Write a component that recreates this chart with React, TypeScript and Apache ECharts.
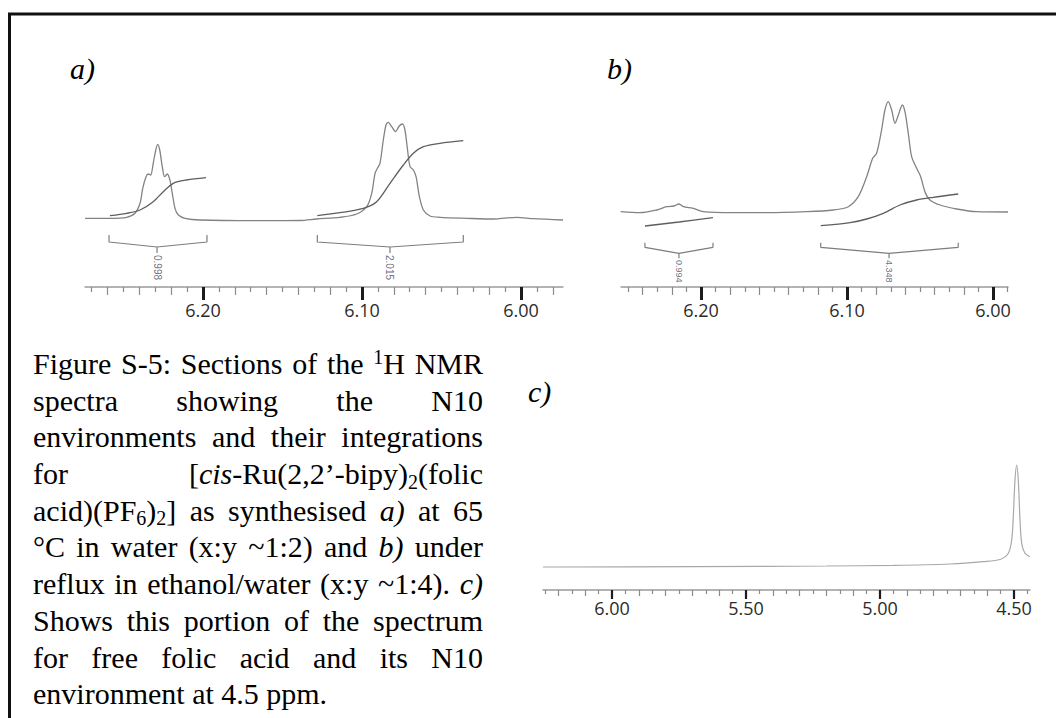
import React, { useEffect, useRef } from "react";
import * as echarts from "echarts";

// ---- Panel a) : 65 °C in water -------------------------------------------
// [chemical shift (ppm), intensity (a.u.)]
const spectrumA: [number, number][] = [
  [6.2742, 0.7], [6.2585, 0.7], [6.248, 1.7], [6.2428, 5.7], [6.2396, 15.7],
  [6.2379, 30.7], [6.2358, 42.3], [6.2344, 45], [6.2329, 44], [6.2313, 55.7],
  [6.2297, 69], [6.2285, 74.7], [6.2272, 69], [6.2256, 52.3], [6.2241, 42.3],
  [6.2225, 45], [6.2208, 39], [6.2193, 25.7], [6.2176, 10.7], [6.2155, 4],
  [6.2113, 0.7], [6.2019, -1], [6.1642, -1.7], [6.139, -1.5], [6.1285, 0],
  [6.1138, 1.7], [6.1033, 5], [6.097, 12.3], [6.0939, 25.7], [6.0918, 45.7],
  [6.0903, 50.7], [6.0887, 55.7], [6.0866, 79], [6.0849, 94], [6.0835, 96.7],
  [6.0813, 92.3], [6.0788, 87.3], [6.0766, 93], [6.0745, 95], [6.073, 89],
  [6.0716, 72.3], [6.0698, 52.3], [6.0677, 49], [6.066, 42.3], [6.0639, 22.3],
  [6.0614, 9], [6.0572, 3], [6.0509, 1.7], [6.0342, 0.7], [6.0174, 0],
  [6.0028, 1.7], [5.9923, 0.3], [5.9736, -1],
];
const integralCurveA1: [number, number][] = [
  [6.2585, 3.3], [6.248, 5.7], [6.2396, 9], [6.2313, 17.3], [6.225, 27.3],
  [6.2187, 35.7], [6.2103, 39], [6.1981, 41.3],
];
const integralCurveA2: [number, number][] = [
  [6.1281, 3.3], [6.1138, 6.3], [6.0992, 10.7], [6.0908, 17.3], [6.0824, 35.7],
  [6.074, 54], [6.0677, 65.7], [6.0614, 72.3], [6.0509, 75.7], [6.0363, 78.3],
];
// integration regions: [from ppm, to ppm, label ppm]
const integralRangesA: [number, number, number][] = [
  [6.2591, 6.1975, 6.2289],
  [6.1281, 6.0363, 6.0824],
];
const integralValuesA = [0.998, 2.015];

// ---- Panel b) : reflux in ethanol/water -----------------------------------
const spectrumB: [number, number][] = [
  [6.255, 0.3], [6.2418, -0.7], [6.2303, 2], [6.2235, 5.3], [6.2185, 6],
  [6.2151, 8], [6.2121, 5.3], [6.2053, 3.7], [6.1984, 0.3], [6.1779, -0.7],
  [6.155, -0.7], [6.1276, 0.3], [6.1094, 2], [6.0991, 5.3], [6.0923, 15.3],
  [6.0865, 35.3], [6.0824, 53.7], [6.0797, 58.7], [6.0763, 82], [6.074, 102],
  [6.0717, 110.3], [6.0694, 102], [6.0671, 88.7], [6.0648, 97], [6.0621, 107],
  [6.0603, 100.3], [6.058, 78.7], [6.0557, 55.3], [6.0523, 43.7], [6.0495, 35.3],
  [6.0466, 20.3], [6.0432, 12], [6.0363, 7], [6.0249, 3], [6.0112, 0.3],
  [5.9897, 0],
];
const integralCurveB1: [number, number][] = [
  [6.2384, -14], [6.2151, -10], [6.1918, -5.7],
];
const integralCurveB2: [number, number][] = [
  [6.118, -13.7], [6.0979, -10.7], [6.0865, -7], [6.0751, -1.3], [6.0637, 7],
  [6.0523, 12], [6.0409, 14.7], [6.0238, 18],
];
const integralRangesB: [number, number, number][] = [
  [6.2384, 6.1918, 6.2151],
  [6.118, 6.0238, 6.0712],
];
const integralValuesB = [0.994, 4.348];

// ---- Panel c) : free folic acid -------------------------------------------
const spectrumC: [number, number][] = [
  [6.2575, 0], [6.194, 0], [5.6966, 0.3], [5.1989, 1], [4.9504, 1.6],
  [4.7388, 3], [4.6146, 5.3], [4.5522, 7.5], [4.5213, 13.7], [4.5086, 27],
  [4.5026, 50.3], [4.4963, 87], [4.4899, 102], [4.484, 87], [4.4776, 47],
  [4.4713, 23.7], [4.459, 13.7], [4.4403, 10.3],
];

// ---- axis ticks ------------------------------------------------------------
const majorTicksAB = [6.2, 6.1, 6.0];
const midTicksAB = [6.26, 6.24, 6.22, 6.18, 6.16, 6.14, 6.12, 6.08, 6.06, 6.04, 6.02, 5.98];
const minorTicksAB = [6.27, 6.25, 6.23, 6.21, 6.19, 6.17, 6.15, 6.13, 6.11, 6.09, 6.07, 6.05, 6.03, 6.01, 5.99];
const majorTicksC = [6.0, 5.5, 5.0, 4.5];
const midTicksC = [6.2, 6.1, 5.9, 5.8, 5.7, 5.6, 5.4, 5.3, 5.2, 5.1, 4.9, 4.8, 4.7, 4.6];
const minorTicksC = [6.25, 6.15, 6.05, 5.95, 5.85, 5.75, 5.65, 5.55, 5.45, 5.35, 5.25, 5.15, 5.05, 4.95, 4.85, 4.75, 4.65, 4.55, 4.45];

// ---- caption ---------------------------------------------------------------
const captionLines = [
  "Figure S-5: Sections of the {sup|1}H NMR",
  "spectra showing the N10",
  "environments and their integrations",
  "for [{i|cis}-Ru(2,2’-bipy){sub|2}(folic",
  "acid)(PF{sub|6}){sub|2}] as synthesised {i|a)} at 65",
  "°C in water (x:y ~1:2) and {i|b)} under",
  "reflux in ethanol/water (x:y ~1:4). {i|c)}",
  "Shows this portion of the spectrum",
  "for free folic acid and its N10",
  "environment at 4.5 ppm.",
];
const panelLabels = ["a)", "b)", "c)"];

const SERIF = '"Liberation Serif", "Times New Roman", serif';
const AXIS_FONT = '"Open Sans", "Noto Sans", sans-serif';
const TEXT_SIZE = 30;
const SCRIPT_SIZE = 20;

type Piece = { kind: "n" | "i" | "sub" | "sup"; text: string };

function parseWord(word: string): Piece[] {
  const out: Piece[] = [];
  const re = /\{(i|sub|sup)\|([^}]*)\}/g;
  let last = 0;
  let m: RegExpExecArray | null;
  while ((m = re.exec(word))) {
    if (m.index > last) out.push({ kind: "n", text: word.slice(last, m.index) });
    out.push({ kind: m[1] as Piece["kind"], text: m[2] });
    last = re.lastIndex;
  }
  if (last < word.length) out.push({ kind: "n", text: word.slice(last) });
  return out;
}

function pieceFont(p: Piece) {
  const size = p.kind === "sub" || p.kind === "sup" ? SCRIPT_SIZE : TEXT_SIZE;
  return { size, italic: p.kind === "i" };
}

function makeMeasurer() {
  const ctx = document.createElement("canvas").getContext("2d")!;
  return (p: Piece) => {
    const f = pieceFont(p);
    ctx.font = `${f.italic ? "italic " : ""}${f.size}px ${SERIF}`;
    return ctx.measureText(p.text).width;
  };
}

function textElement(p: Piece, x: number, baseline: number) {
  const f = pieceFont(p);
  const shift = p.kind === "sup" ? -10 : p.kind === "sub" ? 5 : 0;
  return {
    type: "text",
    x,
    y: baseline + shift - 0.32 * f.size,
    silent: true,
    style: {
      text: p.text,
      fontFamily: SERIF,
      fontSize: f.size,
      fontStyle: f.italic ? "italic" : "normal",
      fill: "#000",
      align: "left",
      verticalAlign: "middle",
    },
  };
}

// justified caption block: each word placed so that every line but the last fills the column
function captionElements() {
  const measure = makeMeasurer();
  const left = 33;
  const right = 483;
  const firstBaseline = 373;
  const leading = 36.7;
  const space = measure({ kind: "n", text: " " });
  const els: any[] = [];
  captionLines.forEach((line, i) => {
    const baseline = firstBaseline + i * leading;
    const words = line.split(" ").map(parseWord);
    const widths = words.map((w) => w.reduce((s, p) => s + measure(p), 0));
    const total = widths.reduce((s, w) => s + w, 0);
    const isLast = i === captionLines.length - 1;
    const gap = isLast || words.length < 2 ? space : (right - left - total) / (words.length - 1);
    let x = left;
    words.forEach((w) => {
      w.forEach((p) => {
        els.push(textElement(p, x, baseline));
        x += measure(p);
      });
      x += gap;
    });
  });
  return els;
}

function labelElements() {
  const spots: [number, number][] = [[70, 78], [607, 78], [528, 401]];
  return panelLabels.map((t, i) =>
    textElement({ kind: "i", text: t }, spots[i][0], spots[i][1])
  );
}

function within(vals: number[], min: number, max: number) {
  return vals.filter((v) => v >= min - 1e-9 && v <= max + 1e-9);
}

type AxisStyle = {
  majorLen: number; majorWidth: number; midLen: number; minorLen: number;
  labelMargin: number; labelSize: number;
};

function panelAxes(gridIndex: number, min: number, max: number, major: number[], mid: number[], minor: number[], s: AxisStyle) {
  const base = {
    type: "value", gridIndex, min, max, inverse: true, position: "bottom",
    splitLine: { show: false }, silent: true,
  };
  return [
    {
      ...base,
      axisLine: { show: false, onZero: false },
      axisTick: { show: true, customValues: within(major, min, max), length: s.majorLen, lineStyle: { color: "#1c1c1c", width: s.majorWidth } },
      axisLabel: {
        show: true, customValues: within(major, min, max),
        formatter: (v: number) => v.toFixed(2),
        margin: s.labelMargin, fontFamily: AXIS_FONT, fontSize: s.labelSize, color: "#2b2b2b",
      },
    },
    {
      ...base,
      axisLine: { show: true, onZero: false, lineStyle: { color: "#9b9b9b", width: 1.5 } },
      axisTick: { show: true, customValues: within(mid, min, max), length: s.midLen, lineStyle: { color: "#8a8a8a", width: 1.2 } },
      axisLabel: { show: false },
    },
    {
      ...base,
      axisLine: { show: false, onZero: false },
      axisTick: { show: true, customValues: within(minor, min, max), length: s.minorLen, lineStyle: { color: "#8a8a8a", width: 1.2 } },
      axisLabel: { show: false },
    },
  ];
}

function trace(xAxisIndex: number, yAxisIndex: number, data: [number, number][], color: string, width: number, smooth: number | boolean = 0.3) {
  return {
    type: "line", xAxisIndex, yAxisIndex, data, symbol: "none", showSymbol: false,
    smooth, silent: true, lineStyle: { color, width },
  };
}

// bracket under an integration region, with a short stem at the label position
function bracket(xAxisIndex: number, yAxisIndex: number, r: [number, number, number], lv: number[]) {
  const [a, b, c] = r;
  const [top, corner, apex, stem] = lv;
  const data: [number, number][] = [
    [a, top], [a, corner], [c, apex], [c, stem], [c, apex], [b, corner], [b, top],
  ];
  return trace(xAxisIndex, yAxisIndex, data, "#7d7d7d", 1.2, false);
}

function integralLabels(xAxisIndex: number, yAxisIndex: number, ranges: [number, number, number][], values: number[], y: number, size: number) {
  return {
    type: "scatter", xAxisIndex, yAxisIndex, symbolSize: 0, silent: true,
    data: ranges.map((r, i) => [r[2], y, values[i]]),
    label: {
      show: true, position: [0, 0], rotate: -90, align: "left", verticalAlign: "middle",
      formatter: (p: any) => p.value[2].toFixed(3),
      fontFamily: '"Liberation Sans", Arial, sans-serif', fontSize: size, color: "#4a4a62",
    },
  };
}

function buildOption() {
  const abStyle: AxisStyle = { majorLen: 13, majorWidth: 3, midLen: 8, minorLen: 5, labelMargin: 14, labelSize: 18 };
  const cStyle: AxisStyle = { majorLen: 9, majorWidth: 2.2, midLen: 6, minorLen: 4, labelMargin: 9, labelSize: 18 };
  const levelsA = [-16, -23, -28, -34];
  const levelsB = [-30.7, -35.3, -41.3, -46.3];
  const specColor = "#838383";
  const intColor = "#5e5e5e";

  return {
    animation: false,
    backgroundColor: "#ffffff",
    grid: [
      { left: 85, top: 93, width: 478, height: 194 },
      { left: 621, top: 93, width: 387, height: 194 },
      { left: 543, top: 440, width: 487, height: 150 },
    ],
    xAxis: [
      ...panelAxes(0, 5.9736, 6.2742, majorTicksAB, midTicksAB, minorTicksAB, abStyle),
      ...panelAxes(1, 5.9897, 6.2548, majorTicksAB, midTicksAB, minorTicksAB, abStyle),
      ...panelAxes(2, 4.4403, 6.2575, majorTicksC, midTicksC, minorTicksC, cStyle),
    ],
    yAxis: [
      { type: "value", gridIndex: 0, min: -68, max: 126, show: false },
      { type: "value", gridIndex: 1, min: -75, max: 119, show: false },
      { type: "value", gridIndex: 2, min: -23, max: 127, show: false },
    ],
    series: [
      trace(0, 0, spectrumA, specColor, 1.3),
      trace(0, 0, integralCurveA1, intColor, 1.3),
      trace(0, 0, integralCurveA2, intColor, 1.3),
      ...integralRangesA.map((r) => bracket(0, 0, r, levelsA)),
      integralLabels(0, 0, integralRangesA, integralValuesA, -36, 10),
      trace(3, 1, spectrumB, specColor, 1.3),
      trace(3, 1, integralCurveB1, intColor, 1.3),
      trace(3, 1, integralCurveB2, intColor, 1.3),
      ...integralRangesB.map((r) => bracket(3, 1, r, levelsB)),
      integralLabels(3, 1, integralRangesB, integralValuesB, -48, 9),
      trace(6, 2, spectrumC, "#a8a8a8", 1.2),
    ],
    graphic: {
      elements: [
        {
          type: "polyline", silent: true,
          shape: { points: [[9.5, 718], [9.5, 14], [1056, 14]] },
          style: { stroke: "#111", lineWidth: 3, fill: "none" },
        },
        ...labelElements(),
        ...captionElements(),
      ],
    },
  };
}

export default function App() {
  const ref = useRef<HTMLDivElement>(null);
  useEffect(() => {
    if (!ref.current) return;
    const chart = echarts.init(ref.current, null, { renderer: "svg" });
    chart.setOption(buildOption() as any);
    return () => chart.dispose();
  }, []);
  return (
    <div
      ref={ref}
      style={{ position: "absolute", left: 0, top: 0, width: 1056, height: 718, background: "#fff" }}
    />
  );
}
